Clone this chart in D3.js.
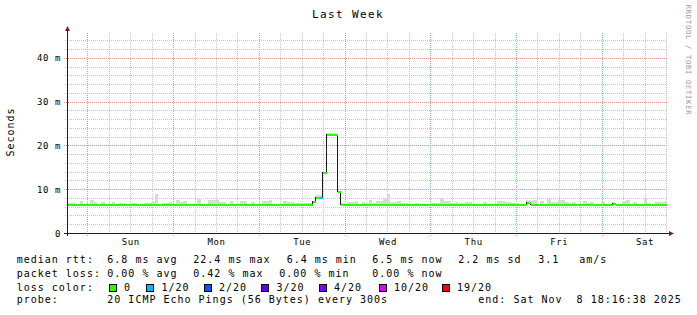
<!DOCTYPE html>
<html><head><meta charset="utf-8">
<script src="https://cdn.jsdelivr.net/npm/d3@7"></script>
<style>
body{margin:0;background:#fff}
svg{display:block}
text{font-family:"DejaVu Sans Mono",monospace;white-space:pre;fill:#000}
</style>
</head><body><svg id="c" width="697" height="315"></svg>
<script>
// ---------------- data ----------------
const title = "Last Week";
const yAxisTitle = "Seconds";
const watermark = "RRDTOOL / TOBI OETIKER";
const startTime = Date.UTC(2025, 10, 1, 18, 16, 38);
const endTime   = Date.UTC(2025, 10, 8, 18, 16, 38);
const binOrigin = Date.UTC(2025, 10, 1, 17, 48, 0); // first hourly bin start
const yMax = 45.714;
const yTicks = [0, 10, 20, 30, 40];
const yTickLabels = ["0", "10 m", "20 m", "30 m", "40 m"];
const dayLabels = ["Sun", "Mon", "Tue", "Wed", "Thu", "Fri", "Sat"];

// hourly median rtt (ms)
const median = [
6.45,6.45,6.45,6.45,6.45,6.45,6.45,6.45,6.45,6.45,6.45,6.45,
6.45,6.45,6.45,6.45,6.45,6.45,6.45,6.45,6.45,6.45,6.45,6.45,
6.45,6.45,6.45,6.45,6.45,6.45,6.45,6.45,6.45,6.45,6.45,6.45,
6.45,6.45,6.45,6.45,6.45,6.45,6.45,6.45,6.45,6.45,6.45,6.45,
6.45,6.45,6.45,6.45,6.45,6.45,6.45,6.45,6.45,6.45,6.45,6.45,
6.45,6.45,6.45,6.45,6.45,6.45,6.45,6.45,6.45,7.0,8.1,8.1,
13.8,22.5,22.5,22.5,9.4,6.45,6.45,6.45,6.45,6.45,6.45,6.45,
6.45,6.45,6.45,6.45,6.45,6.45,6.45,6.45,6.45,6.45,6.45,6.45,
6.45,6.45,6.45,6.45,6.45,6.45,6.45,6.45,6.45,6.45,6.45,6.45,
6.45,6.45,6.45,6.45,6.45,6.45,6.45,6.45,6.45,6.45,6.45,6.45,
6.45,6.45,6.45,6.45,6.45,6.45,6.45,6.45,6.45,6.75,6.45,6.45,
6.45,6.45,6.45,6.45,6.45,6.45,6.45,6.45,6.45,6.45,6.45,6.45,
6.45,6.45,6.45,6.45,6.45,6.45,6.45,6.45,6.45,6.7,6.45,6.45,
6.45,6.45,6.45,6.45,6.45,6.45,6.45,6.45,6.45,6.45,6.45,6.45,
6.45
];
// hourly top of the ping "smoke" (ms)
const smokeTop = [
6.86,6.86,6.86,6.5,7.31,6.5,6.5,7.54,7.09,6.5,7.09,6.5,
6.5,7.09,6.5,6.86,6.86,6.5,6.86,6.86,6.5,6.5,6.86,6.86,
7.09,8.91,6.5,6.86,6.86,7.09,6.5,7.54,7.09,7.31,6.5,6.5,
6.5,7.84,6.5,6.5,7.54,7.54,7.54,7.09,7.09,6.5,7.31,6.5,
6.5,7.2,7.2,6.5,7.09,6.5,6.5,7.31,7.31,7.54,6.5,6.5,
6.5,7.31,7.09,7.09,6.86,6.86,6.86,6.86,6.86,7.2,8.6,8.6,
14.0,22.8,22.8,22.8,9.6,6.86,6.86,7.09,7.09,7.31,6.5,7.09,
6.86,7.54,6.86,7.31,7.31,8.0,8.91,7.09,7.09,7.31,6.86,6.86,
6.5,6.5,6.86,6.5,6.5,6.5,6.86,6.86,6.86,8.0,7.31,7.31,
6.86,7.09,6.86,6.86,7.09,7.09,6.5,6.5,6.5,7.09,6.5,6.5,
6.5,7.31,7.31,7.09,7.09,6.86,6.86,6.5,6.5,7.54,7.31,7.54,
6.5,7.31,6.5,7.84,7.09,7.09,7.54,7.54,7.09,6.86,7.09,6.5,
6.5,7.31,6.86,7.09,6.5,6.5,7.09,6.5,6.5,7.09,6.5,6.5,
7.31,7.54,6.5,7.09,6.5,6.5,8.0,6.86,6.5,7.09,7.09,7.09,
7.31
];
// hourly packets lost (of 20)
const lossCount = [
0,0,0,0,0,0,0,0,0,0,0,0, 0,0,0,0,0,0,0,0,0,0,0,0,
0,0,0,0,0,0,0,0,0,0,0,0, 0,0,0,0,0,0,0,0,0,0,0,0,
0,0,0,0,0,0,0,0,0,0,0,0, 0,0,0,0,0,0,0,0,0,0,0,1,
0,0,0,0,0,0,0,0,0,0,0,0, 0,0,0,0,0,0,0,0,0,0,0,0,
0,0,0,0,0,0,0,0,0,0,0,0, 0,0,0,0,0,0,0,0,0,0,0,0,
0,0,0,0,0,0,0,0,0,0,0,0, 0,0,0,0,0,0,0,0,0,0,0,0,
0,0,0,0,0,0,0,0,0,0,0,0, 0,0,0,0,0,0,0,0,0,0,0,0,
0
];
const lossLevels = [0, 1, 2, 3, 4, 10, 19];
const lossLabels = ["0", "1/20", "2/20", "3/20", "4/20", "10/20", "19/20"];
const lossColors = ["#26ff00", "#00b8ff", "#0059ff", "#5e00ff", "#7e00ff", "#dd00ff", "#ff0000"];

const legendRtt  = ["median rtt:", "6.8 ms avg", "22.4 ms max", "6.4 ms min", "6.5 ms now", "2.2 ms sd", "3.1", "am/s"];
const legendLoss = ["packet loss:", "0.00 % avg", "0.42 % max", "0.00 % min", "0.00 % now"];
const legendColorTitle = "loss color:";
const legendProbe = ["probe:", "20 ICMP Echo Pings (56 Bytes) every 300s", "end: Sat Nov  8 18:16:38 2025"];

// ---------------- drawing ----------------
const svg = d3.select("#c");
svg.append("rect").attr("width", 697).attr("height", 315).attr("fill", "#fff");

const X0 = 67, X1 = 667, Y0 = 233, Y1 = 33;
const x = d3.scaleUtc().domain([startTime, endTime]).range([X0, X1]);
const y = d3.scaleLinear().domain([0, yMax]).range([Y0, Y1]);
const px = v => Math.round(v) + 0.5;

const minorCol = "#c4c4c4", majorCol = "#eb9393";
const grid = svg.append("g").attr("shape-rendering", "crispEdges").attr("fill", "none");

// horizontal grid
y.ticks(23).filter(v => v % 10 !== 0 && v > 0).forEach(v => {
  grid.append("line").attr("x1", X0 - 2).attr("x2", X1).attr("y1", px(y(v))).attr("y2", px(y(v)))
    .attr("stroke", minorCol).attr("stroke-dasharray", "1,1");
});
// vertical grid
const hours6 = d3.utcHour.every(6).range(startTime, endTime).filter(d => d.getUTCHours() !== 0);
hours6.forEach(d => {
  grid.append("line").attr("x1", px(x(d))).attr("x2", px(x(d))).attr("y1", Y1).attr("y2", Y0 + 2)
    .attr("stroke", minorCol).attr("stroke-dasharray", "1,1");
});
const days = d3.utcDay.range(startTime, endTime);
days.forEach(d => {
  grid.append("line").attr("x1", px(x(d))).attr("x2", px(x(d))).attr("y1", Y1).attr("y2", Y0 + 3)
    .attr("stroke", majorCol).attr("stroke-dasharray", "1,1");
});
yTicks.filter(v => v > 0).forEach(v => {
  grid.append("line").attr("x1", X0 - 3).attr("x2", X1).attr("y1", px(y(v))).attr("y2", px(y(v)))
    .attr("stroke", majorCol).attr("stroke-dasharray", "1,1");
});

// clip
svg.append("clipPath").attr("id", "plot").append("rect")
  .attr("x", X0 + 1).attr("y", Y1).attr("width", X1 - X0 - 1).attr("height", Y0 - Y1);
const plot = svg.append("g").attr("clip-path", "url(#plot)");

const bins = median.map((m, i) => ({
  t0: binOrigin + i * 3600e3,
  t1: binOrigin + (i + 1) * 3600e3,
  med: m, top: smokeTop[i], loss: lossCount[i]
}));

// smoke
plot.append("g").attr("shape-rendering", "crispEdges").selectAll("rect").data(bins).join("rect")
  .attr("x", d => x(d.t0)).attr("width", d => x(d.t1) - x(d.t0))
  .attr("y", d => y(d.top)).attr("height", d => Math.max(0, y(d.med) - y(d.top)))
  .attr("fill", "#d9d9d9");

// black step median line (sits on the upper row of the coloured 2px segment)
const stepPts = bins.map(d => [d.t0, d.med]).concat([[bins[bins.length - 1].t1, bins[bins.length - 1].med]]);
plot.append("path").datum(stepPts)
  .attr("d", d3.line().x(d => px(x(d[0]))).y(d => Math.round(y(d[1])) - 0.5).curve(d3.curveStepAfter))
  .attr("fill", "none").attr("stroke", "#1a1a1a").attr("stroke-width", 1)
  .attr("shape-rendering", "crispEdges");

// loss-coloured median segments
const colorFor = l => { let k = 0; lossLevels.forEach((lv, i) => { if (l >= lv) k = i; }); return lossColors[k]; };
plot.append("g").attr("shape-rendering", "crispEdges").selectAll("line").data(bins).join("line")
  .attr("x1", d => Math.round(x(d.t0)) + 1).attr("x2", d => Math.round(x(d.t1)) + 1)
  .attr("y1", d => Math.round(y(d.med))).attr("y2", d => Math.round(y(d.med)))
  .attr("stroke", d => colorFor(d.loss)).attr("stroke-width", 2);

// axes
const axis = svg.append("g").attr("shape-rendering", "crispEdges");
axis.append("line").attr("x1", X0 - 3).attr("x2", X1 + 3).attr("y1", Y0 + 0.5).attr("y2", Y0 + 0.5).attr("stroke", "#1f1f1f");
axis.append("line").attr("x1", X0 + 0.5).attr("x2", X0 + 0.5).attr("y1", Y1 - 2).attr("y2", Y0 + 3).attr("stroke", "#1f1f1f");
svg.append("path").attr("d", `M${X1 + 2},${Y0 - 2} L${X1 + 7},${Y0 + 0.5} L${X1 + 2},${Y0 + 3} Z`).attr("fill", "#7f1f1f");
svg.append("path").attr("d", `M${X0 - 2},${Y1 - 2} L${X0 + 0.5},${Y1 - 7} L${X0 + 3},${Y1 - 2} Z`).attr("fill", "#7f1f1f");

// y tick labels
svg.append("g").selectAll("text").data(yTicks).join("text")
  .attr("x", 61).attr("y", d => y(d) + 3.5).attr("text-anchor", "end")
  .attr("font-size", 9).attr("letter-spacing", 0.6)
  .text((d, i) => yTickLabels[i]);

// x day labels at noon
const noons = days.map(d => d3.utcHour.offset(d, 12));
svg.append("g").selectAll("text").data(noons).join("text")
  .attr("x", d => x(d) + 0.5).attr("y", 245).attr("text-anchor", "middle")
  .attr("font-size", 9).attr("letter-spacing", 0.6)
  .text((d, i) => dayLabels[i]);

// title
svg.append("text").attr("x", 348).attr("y", 18).attr("text-anchor", "middle")
  .attr("font-size", 11).attr("letter-spacing", 1.4).text(title);

// y axis title
svg.append("text").attr("transform", "translate(14,132) rotate(-90)").attr("text-anchor", "middle")
  .attr("font-size", 10).attr("letter-spacing", 1).text(yAxisTitle);

// watermark
svg.append("text").attr("transform", "translate(686,60) rotate(90)").attr("text-anchor", "middle")
  .attr("font-size", 7).attr("letter-spacing", 0.8).style("fill", "#999").text(watermark);

// legend
const lg = svg.append("g").attr("font-size", 10).attr("letter-spacing", 1);
const rowRtt = [16.7, 107.3, 193.3, 286.7, 372.3, 458.3, 538.3, 579.3];
lg.append("g").selectAll("text").data(legendRtt).join("text")
  .attr("x", (d, i) => rowRtt[i]).attr("y", 263).text(d => d);
const rowLoss = [16.7, 107.3, 193.3, 279.3, 372.3];
lg.append("g").selectAll("text").data(legendLoss).join("text")
  .attr("x", (d, i) => rowLoss[i]).attr("y", 276.5).text(d => d);
lg.append("text").attr("x", 16.7).attr("y", 290.5).text(legendColorTitle);
const boxX = [108.5, 146, 203.5, 261, 318.5, 378.5, 441.5];
const swatch = lg.append("g").selectAll("g").data(lossLabels).join("g");
swatch.append("rect").attr("x", (d, i) => Math.round(boxX[i]) + 0.5).attr("y", 284.5)
  .attr("width", 7).attr("height", 7).attr("fill", (d, i) => lossColors[i]).attr("stroke", "#000")
  .attr("shape-rendering", "crispEdges");
swatch.append("text").attr("x", (d, i) => boxX[i] + 15.5).attr("y", 290.5).text(d => d);
const rowProbe = [16.7, 107.3, 478.3];
lg.append("g").selectAll("text").data(legendProbe).join("text")
  .attr("x", (d, i) => rowProbe[i]).attr("y", 302.5).text(d => d);
</script>
</body></html>
